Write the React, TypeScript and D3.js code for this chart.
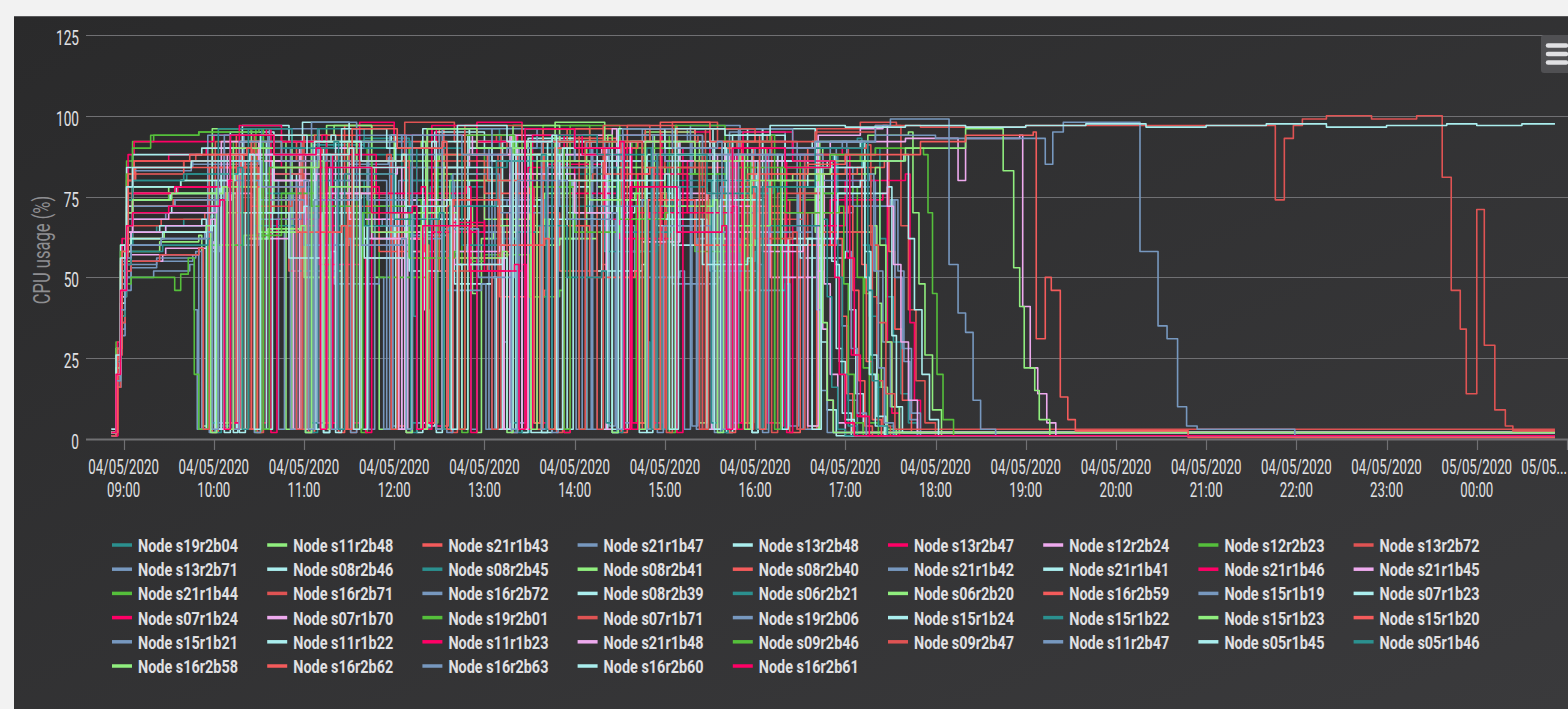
import React, { useEffect, useRef } from 'react';
import * as d3 from 'd3';

const nodeNames = [
  's19r2b04', 's11r2b48', 's21r1b43', 's21r1b47', 's13r2b48', 's13r2b47', 's12r2b24', 's12r2b23', 's13r2b72',
  's13r2b71', 's08r2b46', 's08r2b45', 's08r2b41', 's08r2b40', 's21r1b42', 's21r1b41', 's21r1b46', 's21r1b45',
  's21r1b44', 's16r2b71', 's16r2b72', 's08r2b39', 's06r2b21', 's06r2b20', 's16r2b59', 's15r1b19', 's07r1b23',
  's07r1b24', 's07r1b70', 's19r2b01', 's07r1b71', 's19r2b06', 's15r1b24', 's15r1b22', 's15r1b23', 's15r1b20',
  's15r1b21', 's11r1b22', 's11r1b23', 's21r1b48', 's09r2b46', 's09r2b47', 's11r2b47', 's05r1b45', 's05r1b46',
  's16r2b58', 's16r2b62', 's16r2b63', 's16r2b60', 's16r2b61',
];

const palette = ['#2b908f', '#90ee7e', '#f45b5b', '#7798BF', '#aaeeee', '#ff0066', '#eeaaee', '#55BF3B', '#DF5353', '#7798BF', '#aaeeee'];

const yTicks = [0, 25, 50, 75, 100, 125];
const startTime = new Date(2020, 4, 4, 9, 0);
const lastMinute = 952;

// minutes after 04/05/2020 09:00, CPU usage (%) -- value holds until the next pair
const usage: number[][] = [
  [-8,3, -5,22, -2,46, 2,60, 6,64, 22,66, 40,68, 58,69, 61,30, 63,4, 70,4, 71,86, 95,88, 118,80, 121,2, 126,91, 160,93, 190,70, 193,38, 195,5, 203,3, 204,78, 240,62, 262,64, 265,2, 270,88, 310,90, 345,84, 348,30, 350,3, 354,72, 390,55, 420,58, 423,3, 428,3, 429,86, 470,88, 500,90, 503,62, 507,44, 512,30, 517,14, 522,5, 528,1],
  [-8,2, -5,18, -2,40, 1,55, 5,58, 24,61, 50,63, 52,4, 58,4, 59,96, 85,90, 105,92, 108,3, 112,94, 140,97, 165,84, 167,50, 170,3, 181,4, 182,70, 210,72, 232,45, 235,2, 238,62, 246,64, 280,76, 300,66, 303,3, 308,90, 345,82, 380,92, 383,5, 388,80, 420,60, 455,62, 458,4, 462,3, 463,92, 495,94, 522,95, 525,70, 529,48, 533,26, 538,9, 544,1],
  [-8,1, -4,28, -1,58, 3,80, 8,84, 40,86, 75,88, 78,3, 86,3, 87,74, 110,52, 140,54, 143,2, 147,97, 180,92, 210,96, 213,4, 216,66, 250,44, 280,46, 283,3, 296,3, 297,93, 330,86, 352,88, 355,3, 360,84, 400,72, 440,74, 443,2, 449,2, 450,82, 480,84, 506,86, 509,58, 513,34, 518,12, 524,2],
  [-8,2, -5,16, -2,34, 1,50, 5,53, 22,55, 46,57, 50,3, 56,3, 57,58, 64,60, 90,74, 110,76, 113,3, 118,92, 150,85, 176,87, 179,4, 183,80, 220,64, 250,66, 253,30, 255,3, 262,3, 263,90, 300,94, 320,92, 323,4, 327,68, 365,48, 395,50, 398,3, 403,95, 440,88, 470,90, 474,60, 478,35, 482,12, 488,2],
  [-8,3, -5,24, -2,50, 2,70, 6,76, 35,78, 70,80, 73,2, 76,82, 100,86, 130,88, 133,2, 137,60, 150,62, 180,66, 200,40, 203,4, 207,95, 240,90, 268,92, 271,2, 284,2, 285,78, 310,70, 340,72, 343,2, 348,88, 380,96, 415,90, 418,2, 422,70, 450,56, 480,58, 483,40, 487,14, 492,2],
  [-8,1, -4,26, -1,60, 3,82, 7,86, 30,88, 55,90, 88,92, 91,5, 95,80, 120,66, 150,68, 153,5, 157,98, 180,94, 205,96, 208,4, 212,64, 240,80, 275,82, 278,5, 282,85, 320,68, 350,70, 353,5, 358,95, 390,88, 425,90, 428,5, 438,4, 439,60, 470,74, 505,76, 508,30, 511,8, 516,1],
  [-8,2, -5,18, -2,38, 1,54, 5,57, 28,59, 60,61, 63,3, 67,90, 95,82, 125,84, 128,3, 132,70, 160,56, 195,58, 198,5, 202,84, 230,92, 258,94, 261,3, 265,96, 300,88, 330,90, 333,3, 337,58, 345,61, 370,76, 400,78, 403,3, 407,88, 435,80, 462,82, 466,48, 470,20, 475,5, 480,1],
  [-8,2, -5,30, -2,60, 2,86, 6,92, 20,94, 50,95, 85,96, 88,2, 92,78, 120,70, 155,72, 158,2, 162,90, 190,84, 222,86, 225,2, 229,55, 240,57, 270,44, 290,46, 293,2, 297,97, 330,92, 360,94, 363,2, 367,82, 400,66, 430,68, 433,5, 437,74, 465,86, 490,88, 493,45, 497,20, 502,4, 508,1],
  [-8,2, -5,20, -2,44, 2,62, 6,66, 25,68, 54,70, 57,3, 61,92, 90,86, 115,88, 118,3, 122,76, 150,60, 180,62, 183,4, 187,98, 220,92, 248,94, 251,3, 255,70, 290,52, 318,54, 321,3, 325,92, 360,84, 392,86, 395,3, 399,80, 430,68, 452,70, 455,3, 460,3, 461,96, 490,98, 514,97, 517,66, 522,40, 527,18, 533,5, 540,1],
  [-8,1, -5,16, -2,32, 1,46, 5,50, 20,52, 44,54, 47,40, 49,3, 55,3, 56,86, 80,78, 100,80, 103,3, 107,64, 140,48, 170,50, 173,3, 177,94, 210,88, 240,90, 243,3, 247,74, 280,62, 305,64, 308,3, 312,90, 345,96, 375,92, 378,4, 382,62, 410,46, 440,48, 443,4, 448,4, 449,76, 480,78, 497,80, 500,52, 505,30, 510,10, 516,2],
  [-8,2, -5,22, -2,48, 2,66, 6,70, 32,72, 64,74, 67,2, 71,95, 100,88, 130,90, 133,2, 137,84, 165,72, 192,74, 195,2, 199,68, 230,80, 262,82, 265,2, 269,93, 300,86, 322,88, 325,2, 329,76, 365,60, 398,62, 401,2, 405,92, 440,84, 468,86, 471,55, 474,28, 478,8, 484,1],
  [-8,3, -5,26, -2,54, 2,74, 6,80, 42,82, 80,84, 83,3, 87,66, 115,52, 145,54, 148,3, 152,88, 185,80, 215,82, 218,3, 222,96, 250,90, 282,92, 285,3, 289,72, 320,58, 355,60, 358,3, 362,86, 400,76, 432,78, 435,3, 439,3, 440,90, 470,92, 488,93, 491,60, 496,38, 501,16, 507,4, 513,1],
  [-8,2, -5,24, -2,52, 2,72, 6,76, 30,78, 62,80, 65,5, 69,70, 100,84, 128,86, 131,5, 135,97, 165,90, 198,92, 201,5, 205,82, 240,68, 270,70, 273,5, 277,60, 290,62, 315,78, 340,80, 343,5, 347,95, 380,88, 412,90, 415,5, 419,78, 460,64, 498,66, 501,42, 504,16, 508,3, 514,1],
  [-8,1, -5,18, -2,42, 1,58, 5,62, 26,64, 56,66, 59,2, 63,84, 90,74, 120,76, 123,2, 127,94, 155,86, 185,88, 188,2, 192,72, 220,56, 255,58, 258,2, 262,88, 295,96, 328,92, 331,2, 335,97, 368,90, 400,92, 403,2, 407,70, 440,60, 475,62, 478,38, 481,14, 485,2],
  [-8,3, -5,25, -2,55, 2,78, 6,83, 45,85, 90,87, 93,3, 97,96, 130,90, 160,92, 163,3, 167,74, 200,58, 228,60, 231,3, 235,86, 265,78, 298,80, 301,3, 305,66, 340,50, 370,52, 373,3, 377,97, 410,90, 445,92, 448,3, 452,84, 485,72, 512,74, 515,52, 519,24, 523,6, 528,1],
  [-8,2, -5,20, -2,44, 1,60, 5,64, 24,66, 52,68, 55,3, 59,88, 85,80, 112,82, 115,3, 119,98, 150,92, 178,94, 181,3, 185,62, 198,64, 220,48, 245,50, 248,3, 252,92, 285,84, 315,86, 318,3, 322,80, 355,66, 385,68, 388,3, 392,96, 425,90, 458,92, 461,60, 464,30, 468,9, 474,1],
  [-8,1, -4,30, -1,62, 3,88, 7,92, 60,94, 95,96, 98,2, 102,68, 130,54, 158,56, 161,2, 165,84, 195,76, 228,78, 231,2, 235,98, 265,92, 290,94, 293,2, 297,76, 330,62, 365,64, 368,2, 372,90, 405,84, 438,86, 441,2, 445,66, 480,80, 520,82, 523,36, 526,12, 530,2],
  [-8,2, -5,18, -2,38, 1,52, 5,55, 26,57, 50,59, 53,3, 57,76, 85,62, 110,64, 113,3, 117,90, 150,82, 182,84, 185,3, 189,70, 220,54, 250,56, 253,3, 257,82, 290,94, 325,96, 328,3, 332,94, 360,86, 392,88, 395,3, 399,64, 430,50, 462,52, 465,34, 468,12, 472,2],
  [-8,2, -5,22, -2,50, 2,70, 6,74, 30,76, 66,78, 69,5, 73,92, 105,86, 135,88, 138,5, 142,66, 170,50, 202,52, 205,5, 209,88, 240,80, 272,82, 275,5, 279,97, 310,90, 338,92, 341,5, 345,72, 380,58, 410,60, 413,5, 417,86, 450,76, 485,78, 488,50, 492,22, 496,5, 502,1],
  [-8,3, -5,26, -2,56, 2,80, 6,86, 48,88, 86,90, 89,2, 93,82, 120,70, 148,72, 151,2, 155,70, 185,56, 215,58, 218,2, 222,94, 255,88, 285,90, 288,2, 292,86, 325,74, 358,76, 361,2, 365,98, 395,92, 428,94, 431,2, 435,76, 465,64, 495,66, 498,44, 501,18, 505,4, 510,1],
  [-8,1, -5,16, -2,36, 1,50, 5,54, 22,56, 48,58, 52,3, 56,94, 80,88, 108,90, 111,3, 115,80, 145,66, 172,68, 175,3, 179,60, 192,63, 215,46, 238,48, 241,3, 245,96, 275,90, 308,92, 311,3, 315,84, 345,72, 378,74, 381,3, 385,70, 420,86, 450,88, 453,3, 457,3, 458,70, 485,72, 510,74, 513,50, 518,28, 524,8, 530,1],
  [-8,2, -5,22, -2,48, 2,68, 6,72, 34,74, 72,76, 75,3, 79,97, 110,92, 138,94, 141,3, 145,76, 175,62, 205,64, 208,3, 212,92, 245,86, 275,88, 278,3, 282,68, 315,52, 345,54, 348,3, 352,88, 385,80, 418,82, 421,3, 425,96, 460,90, 490,92, 493,58, 497,26, 501,7, 507,1],
  [-8,2, -5,20, -2,44, 2,60, 6,64, 28,66, 58,68, 61,2, 65,86, 95,76, 122,78, 125,2, 129,96, 160,90, 188,92, 191,2, 195,74, 225,60, 258,62, 261,2, 265,90, 295,82, 325,84, 328,2, 332,64, 365,80, 395,82, 398,2, 402,92, 440,86, 472,88, 475,50, 478,20, 482,4, 488,1],
  [-8,2, -5,24, -2,52, 2,74, 6,78, 38,80, 76,82, 79,3, 83,62, 96,65, 120,50, 142,52, 145,3, 149,92, 180,86, 210,88, 213,3, 217,80, 250,66, 280,68, 283,3, 287,98, 320,92, 350,94, 353,3, 357,74, 390,60, 420,62, 423,3, 427,90, 465,82, 500,84, 503,60, 507,30, 511,10, 516,2],
  [-8,2, -5,22, -2,48, 2,68, 6,72, 33,74, 68,76, 71,5, 75,94, 105,88, 132,90, 135,5, 139,72, 170,58, 200,60, 203,5, 207,86, 240,76, 270,78, 273,5, 277,66, 310,50, 340,52, 343,5, 347,96, 380,90, 408,92, 411,5, 415,82, 450,70, 482,72, 485,46, 489,18, 493,4, 498,1],
  [-8,2, -5,18, -2,40, 1,56, 5,60, 25,62, 54,64, 57,2, 61,80, 90,68, 118,70, 121,2, 125,98, 155,92, 185,94, 188,2, 192,84, 225,72, 255,74, 258,2, 262,72, 290,88, 322,90, 325,2, 329,94, 360,86, 390,88, 393,2, 397,78, 430,64, 458,66, 461,40, 464,15, 468,2],
  [-8,3, -5,28, -2,60, 2,84, 6,88, 52,90, 92,92, 95,3, 99,86, 125,74, 155,76, 158,3, 162,66, 190,52, 222,54, 225,3, 229,94, 260,88, 292,90, 295,3, 299,80, 330,68, 362,70, 365,3, 369,92, 400,86, 435,88, 438,3, 442,62, 475,76, 508,78, 511,32, 514,10, 518,2],
  [-8,3, -5,24, -2,52, 2,72, 6,76, 36,78, 70,80, 73,5, 77,90, 105,84, 135,86, 138,5, 142,78, 170,64, 198,66, 201,5, 205,97, 235,92, 262,94, 265,5, 269,84, 300,70, 335,72, 338,5, 342,70, 375,86, 405,88, 408,5, 412,95, 445,88, 478,90, 481,56, 484,26, 488,7, 494,1],
  [-8,2, -5,20, -2,44, 1,60, 5,64, 28,66, 58,68, 61,3, 65,92, 90,86, 118,88, 121,3, 125,82, 150,68, 180,70, 183,3, 187,74, 220,58, 250,60, 253,3, 257,94, 285,88, 318,90, 321,3, 325,86, 355,74, 388,76, 391,3, 395,72, 425,58, 452,60, 455,4, 461,4, 462,94, 490,96, 505,97, 508,72, 512,54, 517,30, 522,12, 528,2],
  [-8,2, -5,18, -2,38, 1,48, 5,50, 32,50, 34,46, 38,51, 43,56, 47,20, 50,3, 55,3, 56,60, 80,63, 105,76, 128,78, 131,3, 135,86, 165,72, 195,74, 198,3, 202,96, 230,90, 262,92, 265,3, 269,78, 300,64, 330,66, 333,3, 337,90, 370,82, 402,84, 405,3, 409,84, 440,70, 476,72, 479,48, 482,20, 486,5, 492,1],
  [-8,1, -5,16, -2,36, 1,52, 5,55, 24,57, 50,59, 53,3, 57,84, 85,72, 112,74, 115,3, 119,92, 150,86, 175,88, 178,3, 182,68, 210,52, 242,54, 245,3, 249,88, 280,80, 312,82, 315,3, 319,97, 350,92, 382,94, 385,3, 389,76, 420,62, 445,64, 448,3, 452,3, 453,88, 482,90, 494,91, 497,60, 502,36, 507,14, 513,3],
  [-8,3, -5,26, -2,56, 2,78, 6,84, 46,86, 84,88, 87,2, 91,74, 120,60, 148,62, 151,2, 155,94, 185,88, 212,90, 215,2, 219,82, 250,70, 282,72, 285,2, 289,92, 320,86, 352,88, 355,2, 359,66, 390,52, 422,54, 425,2, 429,88, 465,80, 496,82, 499,52, 502,22, 506,5, 512,1],
  [-8,2, -5,22, -2,50, 2,70, 6,74, 31,76, 64,78, 67,3, 71,88, 100,80, 125,82, 128,3, 132,70, 160,56, 192,58, 195,3, 199,96, 230,90, 258,92, 261,3, 265,82, 295,70, 328,72, 331,3, 335,74, 365,88, 398,90, 401,3, 405,94, 440,86, 470,88, 473,54, 476,24, 480,6, 486,1],
  [-8,2, -5,18, -2,38, 1,54, 5,58, 26,60, 56,62, 59,5, 63,96, 92,90, 122,92, 125,5, 129,80, 160,66, 188,68, 191,5, 195,90, 225,84, 255,86, 258,5, 262,64, 275,66, 295,50, 318,52, 321,5, 325,86, 355,78, 388,80, 391,5, 395,80, 430,66, 465,68, 468,44, 471,16, 475,3, 480,1],
  [-8,2, -5,20, -2,42, 1,58, 5,62, 27,64, 55,66, 58,2, 62,78, 90,64, 118,66, 121,2, 125,92, 155,86, 185,88, 188,2, 192,70, 222,56, 252,58, 255,2, 259,97, 290,92, 322,94, 325,2, 329,84, 360,72, 392,74, 395,2, 399,66, 430,80, 462,82, 465,36, 468,12, 472,2],
  [-8,3, -5,25, -2,54, 2,76, 6,82, 40,84, 78,86, 81,3, 85,92, 115,86, 142,88, 145,3, 149,76, 178,62, 205,64, 208,3, 212,88, 242,80, 272,82, 275,3, 279,96, 310,90, 342,92, 345,3, 349,74, 380,60, 412,62, 415,3, 419,90, 455,82, 488,84, 491,54, 494,24, 498,6, 504,1],
  [-8,2, -5,20, -2,46, 2,64, 6,68, 28,70, 60,72, 63,5, 67,94, 96,88, 126,90, 129,5, 133,86, 162,74, 192,76, 195,5, 199,62, 212,65, 236,50, 260,52, 263,5, 267,92, 300,86, 330,88, 333,5, 337,78, 370,64, 402,66, 405,5, 409,96, 445,90, 478,92, 481,58, 484,28, 488,8, 494,1],
  [-8,2, -5,24, -2,52, 2,72, 6,78, 38,80, 74,82, 77,2, 81,70, 110,56, 138,58, 141,2, 145,96, 175,90, 205,92, 208,2, 212,84, 245,72, 275,74, 278,2, 282,92, 315,86, 345,88, 348,2, 352,68, 385,54, 415,56, 418,2, 422,86, 455,78, 490,80, 493,50, 496,20, 500,4, 506,1],
  [-8,2, -5,22, -2,50, 2,70, 6,76, 34,78, 70,80, 73,3, 77,97, 105,92, 132,94, 135,3, 139,88, 168,76, 198,78, 201,3, 205,64, 218,67, 240,52, 265,54, 268,3, 272,94, 305,88, 335,90, 338,3, 342,82, 375,70, 405,72, 408,3, 412,92, 445,86, 480,88, 483,56, 486,26, 490,7, 496,1],
  [-8,2, -5,20, -2,46, 2,64, 6,68, 30,70, 62,72, 65,3, 69,88, 100,80, 128,82, 131,3, 135,76, 165,62, 195,64, 198,3, 202,94, 232,88, 262,90, 265,3, 269,82, 300,70, 330,72, 333,3, 337,92, 370,86, 400,88, 403,3, 407,86, 440,90, 470,92, 520,93, 555,80, 560,93, 596,94, 598,41, 603,22, 608,14, 614,5, 620,1],
  [-8,2, -5,28, -2,58, 2,82, 6,90, 18,94, 50,95, 90,96, 93,3, 97,84, 125,72, 152,74, 155,3, 159,70, 190,56, 220,58, 223,3, 227,94, 260,88, 290,90, 293,3, 297,80, 330,68, 360,70, 363,3, 367,97, 400,92, 430,94, 433,3, 437,84, 470,88, 500,90, 532,88, 535,70, 538,45, 541,20, 545,6, 552,1],
  [-8,2, -4,26, -1,56, 3,80, 7,84, 40,86, 80,88, 83,3, 87,94, 120,88, 150,90, 153,3, 157,86, 190,72, 220,74, 223,3, 227,97, 265,92, 300,94, 303,3, 307,92, 345,84, 380,86, 383,3, 387,96, 420,92, 460,95, 500,97, 530,96.5, 600,97, 680,97, 766,74, 772,93, 778,97, 784,99, 800,100, 830,99, 860,100, 877,81, 883,46, 889,34, 893,14, 900,71, 905,29, 912,9, 919,4, 924,2.5],
  [-8,2, -5,22, -2,48, 2,68, 6,72, 34,74, 70,76, 73,3, 77,92, 105,86, 135,88, 138,3, 142,80, 175,66, 205,68, 208,3, 212,96, 245,90, 275,92, 278,3, 282,84, 315,72, 345,74, 348,3, 352,94, 385,88, 420,90, 423,3, 427,88, 460,92, 500,94, 540,93, 613,85, 618,95, 625,98, 676,58, 688,35, 694,31, 701,10, 707,4, 714,3, 779,0.5],
  [-8,2, -5,20, -2,42, 1,58, 5,62, 26,64, 58,66, 61,3, 65,82, 95,70, 120,72, 123,3, 127,92, 158,86, 185,88, 188,3, 192,68, 222,54, 252,56, 255,3, 259,88, 290,80, 322,82, 325,3, 329,96, 360,90, 390,92, 393,3, 397,74, 425,60, 455,62, 458,3, 463,3, 464,84, 492,86, 519,88, 522,62, 526,40, 531,20, 536,6, 542,1],
  [-8,3, -5,24, -2,52, 2,74, 6,80, 40,82, 76,84, 79,3, 83,96, 112,90, 140,92, 143,3, 147,82, 180,68, 210,70, 213,3, 217,72, 248,86, 278,88, 281,3, 285,94, 315,88, 348,90, 351,3, 355,88, 388,76, 418,78, 421,3, 425,78, 460,90, 492,92, 495,46, 498,18, 502,4, 508,1],
  [-8,2, -5,22, -2,50, 2,70, 6,74, 32,76, 66,78, 69,3, 73,90, 100,84, 130,86, 133,3, 137,78, 165,64, 195,66, 198,3, 202,96, 235,90, 268,92, 271,3, 275,86, 310,74, 340,76, 343,3, 347,92, 380,86, 410,88, 413,3, 417,80, 445,82, 470,86, 520,90, 560,96, 585,83, 592,53, 596,41, 599,22, 606,15, 609,6, 616,1],
  [-8,2, -4,28, -1,58, 3,82, 7,86, 44,88, 82,90, 85,3, 89,78, 115,64, 145,66, 148,3, 152,96, 182,90, 212,92, 215,3, 219,74, 250,60, 280,62, 283,3, 287,90, 320,82, 350,84, 353,3, 357,98, 390,92, 420,94, 423,3, 427,82, 455,85, 480,88, 530,92, 560,94, 605,95, 607,31, 613,50, 617,46, 623,13, 628,6, 633,2.5, 708,0.5],
  [-8,2, -5,18, -2,40, 1,56, 5,60, 25,62, 56,64, 59,3, 63,86, 92,78, 120,80, 123,3, 127,74, 158,60, 185,62, 188,3, 192,94, 225,88, 255,90, 258,3, 262,80, 295,68, 325,70, 328,3, 332,96, 365,90, 395,92, 398,3, 402,88, 430,90, 460,92, 500,97, 510,99, 549,54, 555,39, 560,33, 565,12, 570,3, 580,1],
  [-8,3, -5,26, -2,56, 2,78, 6,84, 45,86, 84,88, 87,3, 91,94, 122,88, 150,90, 153,3, 157,84, 188,72, 215,74, 218,3, 222,97, 255,92, 285,94, 288,3, 292,90, 325,80, 360,82, 363,3, 367,96, 400,94, 430,97, 480,96.5, 520,97, 560,96.5, 600,97, 640,97.5, 680,96.5, 720,97, 760,97.5, 800,96.5, 840,97, 880,97.5, 900,97, 930,97.5],
  [-8,2, -5,20, -2,46, 2,66, 6,70, 30,72, 64,74, 67,3, 71,94, 100,88, 128,90, 131,3, 135,84, 165,70, 192,72, 195,3, 199,66, 230,52, 260,54, 263,3, 267,96, 300,90, 330,92, 333,3, 337,78, 368,64, 398,66, 401,3, 405,90, 440,84, 470,86, 473,50, 476,20, 480,5, 486,1],
];

const W = 1568;
const H = 709;

export default function App() {
  const ref = useRef<SVGSVGElement>(null);

  useEffect(() => {
    const svg = d3.select(ref.current);
    svg.selectAll('*').remove();

    const font = 'Roboto, "Open Sans", sans-serif';
    const defs = svg.append('defs');
    const grad = defs.append('linearGradient').attr('id', 'panelBg')
      .attr('x1', 0).attr('y1', 0).attr('x2', 1).attr('y2', 1);
    grad.append('stop').attr('offset', '0%').attr('stop-color', '#2a2a2b');
    grad.append('stop').attr('offset', '100%').attr('stop-color', '#3a3a3c');

    svg.append('rect').attr('width', W).attr('height', H).attr('fill', '#f2f2f2');
    svg.append('rect').attr('x', 14).attr('y', 16).attr('width', W - 14).attr('height', H - 16).attr('fill', 'url(#panelBg)');
    svg.append('line').attr('x1', 14).attr('x2', W).attr('y1', 16.5).attr('y2', 16.5).attr('stroke', '#5a5a5c');

    const plotLeft = 86;
    const x = d3.scaleTime()
      .domain([new Date(2020, 4, 4, 8, 35), new Date(2020, 4, 5, 1, 0)])
      .range([plotLeft, 1567]);
    const y = d3.scaleLinear().domain([0, 125]).range([439, 35]);

    // grid
    svg.append('g').selectAll('line').data(yTicks).enter().append('line')
      .attr('x1', plotLeft).attr('x2', W)
      .attr('y1', (d) => Math.round(y(d)) + 0.5).attr('y2', (d) => Math.round(y(d)) + 0.5)
      .attr('stroke', '#707073').attr('stroke-width', (d) => (d === 0 ? 2 : 1.2));

    svg.append('g').selectAll('text').data(yTicks).enter().append('text')
      .attr('transform', (d) => `translate(79,${y(d) + 10}) scale(0.7,1)`)
      .attr('text-anchor', 'end').attr('font-family', font).attr('font-size', 19.5)
      .attr('fill', '#E0E0E3').text((d) => d);

    svg.append('text')
      .attr('transform', 'translate(50,250) rotate(-90) scale(0.72,1)')
      .attr('text-anchor', 'middle').attr('font-family', font).attr('font-size', 23)
      .attr('fill', '#8e8e91').text('CPU usage (%)');

    // x axis
    const hours = d3.timeHour.range(startTime, new Date(2020, 4, 5, 1, 1));
    const ax = svg.append('g');
    ax.selectAll('line').data(hours).enter().append('line')
      .attr('x1', (d) => Math.round(x(d)) + 0.5).attr('x2', (d) => Math.round(x(d)) + 0.5)
      .attr('y1', 439).attr('y2', 450).attr('stroke', '#707073').attr('stroke-width', 1.2);
    const fDate = d3.timeFormat('%d/%m/%Y');
    const fTime = d3.timeFormat('%H:%M');
    const lastTick = hours[hours.length - 1];
    hours.forEach((h) => {
      const last = h === lastTick;
      const g = ax.append('g').attr('font-family', font).attr('font-size', 19.5).attr('fill', '#E0E0E3');
      g.append('text')
        .attr('transform', `translate(${last ? 1567 : x(h)},474) scale(0.68,1)`)
        .attr('text-anchor', last ? 'end' : 'middle')
        .text(last ? fDate(h).slice(0, 5) + '...' : fDate(h));
      if (!last) {
        g.append('text')
          .attr('transform', `translate(${x(h)},497) scale(0.68,1)`)
          .attr('text-anchor', 'middle').text(fTime(h));
      }
    });

    // series
    const line = d3.line<{ t: Date; v: number }>()
      .x((d) => x(d.t)).y((d) => y(d.v)).curve(d3.curveStepAfter);
    const toPoints = (arr: number[]) => {
      const pts: { t: Date; v: number }[] = [];
      for (let i = 0; i < arr.length; i += 2) {
        pts.push({ t: d3.timeMinute.offset(startTime, arr[i]), v: arr[i + 1] });
      }
      const lastPt = pts[pts.length - 1];
      pts.push({ t: d3.timeMinute.offset(startTime, lastMinute), v: lastPt.v });
      return pts;
    };
    const series = svg.append('g').attr('fill', 'none');
    usage.forEach((arr, i) => {
      series.append('path')
        .attr('d', line(toPoints(arr)))
        .attr('stroke', palette[i % palette.length])
        .attr('stroke-width', 1.6)
        .attr('stroke-linejoin', 'round');
    });

    // legend
    const legend = svg.append('g').attr('font-family', font).attr('font-size', 19).attr('font-weight', 700);
    nodeNames.forEach((name, i) => {
      const col = i % 9;
      const row = Math.floor(i / 9);
      const tx = 138 + 155.2 * col;
      const ty = 552 + 24.2 * row;
      legend.append('line')
        .attr('x1', tx - 26).attr('x2', tx - 6).attr('y1', ty - 7).attr('y2', ty - 7)
        .attr('stroke', palette[i % palette.length]).attr('stroke-width', 3.5);
      legend.append('text')
        .attr('transform', `translate(${tx},${ty}) scale(0.76,1)`)
        .attr('fill', '#E0E0E3')
        .text(`Node ${name}`);
    });

    // context menu button
    const btn = svg.append('g');
    btn.append('rect').attr('x', 1541).attr('y', 35).attr('width', 40).attr('height', 38).attr('rx', 3).attr('fill', '#505053');
    [45.5, 54, 62.5].forEach((yy) => {
      btn.append('line').attr('x1', 1548).attr('x2', 1566).attr('y1', yy).attr('y2', yy)
        .attr('stroke', '#E0E0E3').attr('stroke-width', 4.5).attr('stroke-linecap', 'round');
    });
  }, []);

  return <svg ref={ref} width={W} height={H} style={{ position: 'absolute', left: 0, top: 0, display: 'block' }} />;
}
